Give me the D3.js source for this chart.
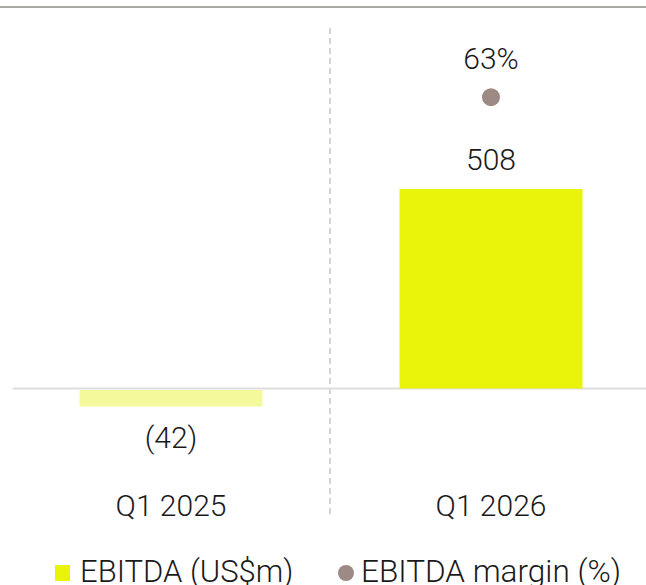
<!DOCTYPE html>
<html>
<head>
<meta charset="utf-8">
<script src="https://cdn.jsdelivr.net/npm/d3@7"></script>
<style>
  body { margin: 0; background: #fff; }
  text { font-family: Roboto, 'Noto Sans', sans-serif; font-weight: 300; fill: #1a1a1a; }
</style>
</head>
<body>
<svg width="646" height="585"></svg>
<script>
const categories = ['Q1 2025', 'Q1 2026']
const ebitda = [-42, 508]
const ebitdaLabels = ['(42)', '508']
const margin = [null, 0.63]
const marginLabels = [null, '63%']

const barColors = ['#f4f99c', '#e8f50b']
const dotColor = '#9e8a84'

const svg = d3.select('svg')

let x = d3.scaleBand().domain(categories).range([11, 651])
let y = d3.scaleLinear().domain([0, 508]).range([388.5, 189])
let y2 = d3.scaleLinear().domain([0, 1]).range([388.5, -74])

// top rule
svg.append('line')
  .attr('x1', 0).attr('x2', 646).attr('y1', 7).attr('y2', 7)
  .attr('stroke', '#a9aaa4').attr('stroke-width', 2)

// dashed divider between categories
svg.append('line')
  .attr('x1', x(categories[1]) - 1).attr('x2', x(categories[1]) - 1)
  .attr('y1', 28).attr('y2', 518)
  .attr('stroke', '#aaa').attr('stroke-width', 1)
  .attr('stroke-dasharray', '6,4')

// zero line
svg.append('line')
  .attr('x1', 13).attr('x2', 646).attr('y1', y(0)).attr('y2', y(0))
  .attr('stroke', '#dddddd').attr('stroke-width', 2)

const barW = 183
const data = categories.map((c, i) => ({ c, v: ebitda[i], lab: ebitdaLabels[i], m: margin[i], ml: marginLabels[i], col: barColors[i] }))

svg.selectAll('rect.bar')
  .data(data)
  .enter()
  .append('rect')
  .attr('class', 'bar')
  .attr('x', (d) => x(d.c) + x.bandwidth() / 2 - barW / 2)
  .attr('y', (d) => (d.v >= 0 ? y(d.v) : y(0) + 1.5))
  .attr('width', barW)
  .attr('height', (d) => Math.abs(y(d.v) - y(0)))
  .attr('fill', (d) => d.col)

svg.selectAll('text.val')
  .data(data)
  .enter()
  .append('text')
  .attr('class', 'val')
  .attr('x', (d) => x(d.c) + x.bandwidth() / 2)
  .attr('y', (d) => (d.v >= 0 ? y(d.v) - 19 : y(d.v) + 43))
  .attr('text-anchor', 'middle')
  .style('font-size', '30px')
  .text((d) => d.lab)

const mData = data.filter((d) => d.m != null)

svg.selectAll('circle.margin')
  .data(mData)
  .enter()
  .append('circle')
  .attr('class', 'margin')
  .attr('cx', (d) => x(d.c) + x.bandwidth() / 2)
  .attr('cy', (d) => y2(d.m))
  .attr('r', 9)
  .attr('fill', dotColor)

svg.selectAll('text.mlab')
  .data(mData)
  .enter()
  .append('text')
  .attr('class', 'mlab')
  .attr('x', (d) => x(d.c) + x.bandwidth() / 2)
  .attr('y', (d) => y2(d.m) - 28)
  .attr('text-anchor', 'middle')
  .style('font-size', '30px')
  .text((d) => d.ml)

// category labels
svg.selectAll('text.cat')
  .data(categories)
  .enter()
  .append('text')
  .attr('class', 'cat')
  .attr('x', (d) => x(d) + x.bandwidth() / 2)
  .attr('y', 516)
  .attr('text-anchor', 'middle')
  .style('font-size', '30px')
  .text((d) => d)

// legend
const leg = svg.append('g')
leg.append('rect').attr('x', 55).attr('y', 565).attr('width', 15).attr('height', 16).attr('fill', barColors[1])
leg.append('text').attr('x', 80).attr('y', 582).style('font-size', '31px').text('EBITDA (US$m)')
leg.append('circle').attr('cx', 346).attr('cy', 573).attr('r', 8).attr('fill', dotColor)
leg.append('text').attr('x', 361).attr('y', 582).style('font-size', '31.5px').text('EBITDA margin (%)')
</script>
</body>
</html>
